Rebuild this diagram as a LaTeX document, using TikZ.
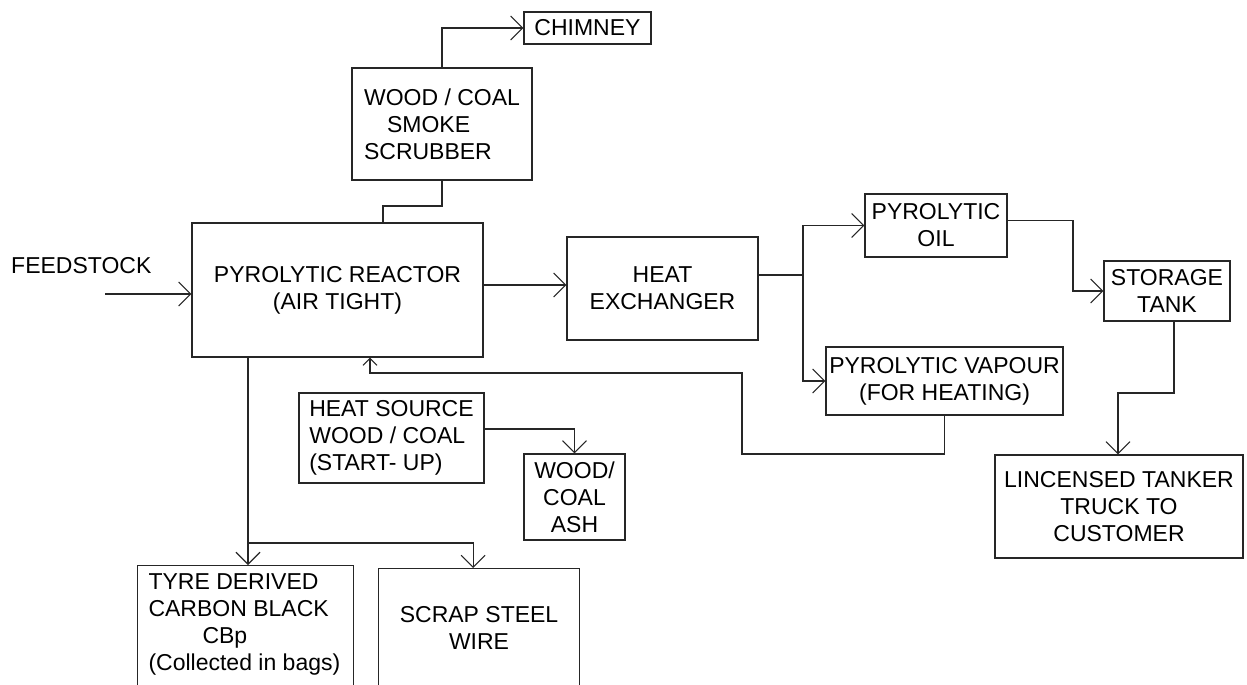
\documentclass[tikz,border=0pt]{standalone}
\usepackage{fontspec}
\setmainfont{Liberation Sans}
\usetikzlibrary{arrows.meta}

\begin{document}
\begin{tikzpicture}[
  x=1pt,y=-1pt,
  font=\fontsize{23}{27}\selectfont,
  box/.style={draw=black!85,line width=1.1pt,inner sep=1pt,align=center},
  openbox/.style={draw=black!85,line width=1.1pt,anchor=north west,text depth=160pt},
  line/.style={black!85,line width=1.1pt},
  arr/.style={line,-{Straight Barb[length=12pt,width=24pt]}},
  smallarr/.style={line,-{Straight Barb[length=7pt,width=14pt]}}
]
\useasboundingbox (0,0) rectangle (1247,685);
\clip (0,0) rectangle (1247,685);
\node[box,minimum width=127pt,minimum height=32pt] (chim) at (587.5,28) {CHIMNEY};
\node[box,align=left,minimum width=180pt,minimum height=112pt] (scrub) at (442,124)
  {WOOD / COAL\\\hspace*{23pt}SMOKE\\SCRUBBER};
\node[anchor=base west,inner sep=0pt] (feed) at (11,273) {FEEDSTOCK};
\node[box,minimum width=291pt,minimum height=134pt] (react) at (337.5,290)
  {PYROLYTIC REACTOR\\(AIR TIGHT)};
\node[box,minimum width=191pt,minimum height=103pt] (hx) at (662.5,288.5) {HEAT\\EXCHANGER};
\node[box,minimum width=142pt,minimum height=63pt] (oil) at (936,225.5) {PYROLYTIC\\OIL};
\node[box,minimum width=237pt,minimum height=68pt] (vap) at (944.5,381)
  {PYROLYTIC VAPOUR\\(FOR HEATING)};
\node[box,minimum width=126pt,minimum height=60pt] (store) at (1167,291) {STORAGE\\TANK};
\node[box,minimum width=248pt,minimum height=103pt] (tank) at (1119,506.5)
  {LINCENSED TANKER\\TRUCK TO\\CUSTOMER};
\node[box,align=left,minimum width=185pt,minimum height=90pt] (heat) at (391.5,438)
  {HEAT SOURCE\\WOOD / COAL\\(START- UP)};
\node[box,minimum width=101pt,minimum height=86pt] (ash) at (574.5,497) {WOOD/\\COAL\\ASH};
\node[openbox,inner xsep=11pt,inner ysep=8pt,minimum width=216pt] (tyre) at (137,565)
  {\parbox[t]{194pt}{\raggedright TYRE DERIVED\\CARBON BLACK\\\hspace*{54pt}CBp\\(Collected in bags)}};
\node[openbox,inner xsep=5pt,inner ysep=38pt,minimum width=201pt] (scrap) at (378,568)
  {\parbox[t]{190pt}{\centering SCRAP STEEL\\WIRE}};
\coordinate (fin) at (105,294);
\coordinate (sj) at (383,206);
\coordinate (hj) at (803,275);
\coordinate (oj) at (1073,250);
\coordinate (sk) at (1118,393);
\coordinate (v1) at (742,454);
\coordinate (v2) at (370,373);
\coordinate (rj) at (248,543);
\draw[arr] (fin) -- (fin -| react.west);
\draw[arr] (scrub.north) |- (chim.west);
\draw[line] (scrub.south) |- (sj) -- (sj |- react.north);
\draw[arr] ([yshift=5pt]react.east) -- ([yshift=5pt]react.east -| hx.west);
\draw[line] (hx.east |- hj) -- (hj);
\draw[arr] (hj) |- (oil.west);
\draw[arr] (hj) |- (vap.west);
\draw[arr] ([yshift=5pt]oil.east) -| (oj) |- (store.west);
\draw[arr] ([xshift=7pt]store.south) |- (sk) -- (sk |- tank.north);
\draw[smallarr] (vap.south) |- (v1) |- (v2) -- (v2 |- react.south);
\draw[arr] ([yshift=9pt]heat.east) -| (ash.north);
\draw[arr] (rj |- react.south) -- (rj |- tyre.north);
\draw[arr] (rj) -| ([xshift=-6pt]scrap.north);
\end{tikzpicture}
\end{document}
